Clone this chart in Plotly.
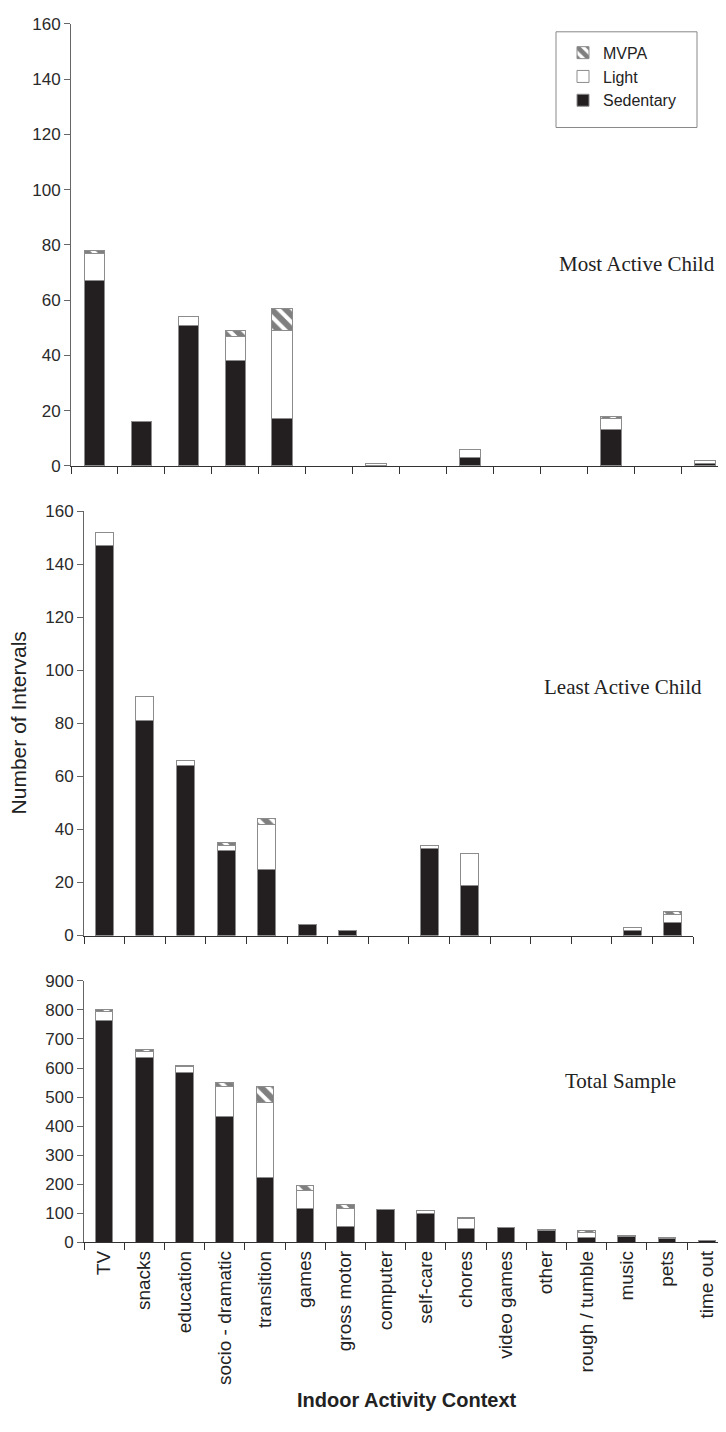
import plotly.graph_objects as go

categories = ["TV", "snacks", "education", "socio - dramatic", "transition", "games",
              "gross motor", "computer", "self-care", "chores", "video games", "other",
              "rough / tumble", "music", "pets", "time out"]

# Most Active Child (14 contexts shown)
most_sed = [67, 16, 51, 38, 17, 0, 0, 0, 3, 0, 0, 13, 0, 1]
most_light = [10, 0, 3, 9, 32, 0, 1, 0, 3, 0, 0, 4, 0, 1]
most_mvpa = [1, 0, 0, 2, 8, 0, 0, 0, 0, 0, 0, 1, 0, 0]

# Least Active Child (15 contexts shown)
least_sed = [147, 81, 64, 32, 25, 4, 2, 0, 33, 19, 0, 0, 0, 2, 5]
least_light = [5, 9, 2, 2, 17, 0, 0, 0, 1, 12, 0, 0, 0, 1, 3]
least_mvpa = [0, 0, 0, 1, 2, 0, 0, 0, 0, 0, 0, 0, 0, 0, 1]

# Total Sample (16 contexts)
total_sed = [765, 635, 583, 432, 222, 118, 53, 113, 100, 48, 52, 40, 15, 20, 13, 8]
total_light = [30, 22, 22, 103, 260, 60, 65, 0, 8, 33, 0, 3, 20, 5, 5, 0]
total_mvpa = [8, 6, 3, 15, 55, 17, 12, 0, 0, 6, 0, 0, 6, 0, 0, 0]

panel_titles = ["Most Active Child", "Least Active Child", "Total Sample"]

DARK = "#231f20"
EDGE = "#8c8c8c"
SANS = "Liberation Sans, Arial, sans-serif"
SERIF = "Liberation Serif, Times New Roman, serif"

# figure is sized so the page (with the default 8px body margin) fits the window
FW, FH, OFF = 710.0, 1416.0, 8.0

def px(x):  # reference-page x -> paper fraction
    return (x - OFF) / FW

def py(y):  # reference-page y -> paper fraction
    return 1 - (y - OFF) / FH

def nz(v):
    return [x if x else None for x in v]

fig = go.Figure()

panels = [
    (most_sed, most_light, most_mvpa, "x", "y"),
    (least_sed, least_light, least_mvpa, "x2", "y2"),
    (total_sed, total_light, total_mvpa, "x3", "y3"),
]

for i, (sed, light, mvpa, xa, ya) in enumerate(panels):
    cats = categories[:len(sed)]
    show = (i == 0)
    fig.add_trace(go.Bar(x=cats, y=nz(sed), name="Sedentary", xaxis=xa, yaxis=ya,
                         marker=dict(color=DARK, line=dict(color=EDGE, width=1)),
                         width=0.44, showlegend=show, legendgroup="sed"))
    fig.add_trace(go.Bar(x=cats, y=nz(light), name="Light", xaxis=xa, yaxis=ya,
                         marker=dict(color="white", line=dict(color=EDGE, width=1)),
                         width=0.44, showlegend=show, legendgroup="light"))
    fig.add_trace(go.Bar(x=cats, y=nz(mvpa), name="MVPA", xaxis=xa, yaxis=ya,
                         marker=dict(color="white", line=dict(color=EDGE, width=1),
                                     pattern=dict(shape="\\", fgcolor="#000000", bgcolor="white",
                                                  size=10, solidity=0.6)),
                         width=0.44, showlegend=show, legendgroup="mvpa"))

xcommon = dict(type="category", showline=True, linecolor="#333", linewidth=1,
               ticks="outside", tickson="boundaries", ticklen=7, tickcolor="#333",
               showgrid=False, zeroline=False, fixedrange=True)
ycommon = dict(showline=True, linecolor="#666", linewidth=1, ticks="outside",
               ticklen=6, tickcolor="#666", showgrid=False, zeroline=False,
               tickfont=dict(family=SANS, size=17, color="#2a2a2a"))

sp_top = 46.95
sp_bot = 40.2

fig.update_layout(
    width=FW, height=FH,
    margin=dict(l=0, r=0, t=0, b=0),
    paper_bgcolor="white", plot_bgcolor="white",
    barmode="stack",
    showlegend=True,
    legend=dict(x=px(563), y=py(27), xanchor="left", yanchor="top",
                traceorder="reversed", borderwidth=0,
                bgcolor="rgba(0,0,0,0)", font=dict(family=SANS, size=16, color="#222"),
                tracegroupgap=12, itemwidth=30),
    xaxis=dict(xcommon, domain=[px(71), 1.0], range=[-0.5, -0.5 + (FW - (71 - OFF)) / sp_top],
               showticklabels=False, anchor="y"),
    yaxis=dict(ycommon, domain=[py(463), py(15)], range=[0, 160], dtick=20, anchor="x"),
    xaxis2=dict(xcommon, domain=[px(84), px(693)], range=[-0.5, 14.5],
                showticklabels=False, anchor="y2"),
    yaxis2=dict(ycommon, domain=[py(939), py(509)], range=[0, 160], dtick=20, anchor="x2"),
    xaxis3=dict(xcommon, domain=[px(84), 1.0], range=[-0.5, -0.5 + (FW - (84 - OFF)) / sp_bot],
                showticklabels=True, tickangle=-90,
                tickfont=dict(family=SANS, size=19, color="#222"), anchor="y3"),
    yaxis3=dict(ycommon, domain=[py(1250), py(985)], range=[0, 900], dtick=100, anchor="x3"),
)

# legend frame
fig.add_shape(type="rect", xref="paper", yref="paper", x0=px(556), x1=px(697),
              y0=py(120), y1=py(23), line=dict(color="#888", width=1),
              fillcolor="rgba(0,0,0,0)", layer="above")

fig.add_annotation(text=panel_titles[0], xref="paper", yref="paper", x=px(717), y=py(258),
                   xanchor="right", yanchor="middle", showarrow=False,
                   font=dict(family=SERIF, size=21, color="#222"))
fig.add_annotation(text=panel_titles[1], xref="paper", yref="paper", x=px(704), y=py(687),
                   xanchor="right", yanchor="middle", showarrow=False,
                   font=dict(family=SERIF, size=21, color="#222"))
fig.add_annotation(text=panel_titles[2], xref="paper", yref="paper", x=px(678), y=py(1086),
                   xanchor="right", yanchor="middle", showarrow=False,
                   font=dict(family=SERIF, size=21, color="#222"))
fig.add_annotation(text="Number of Intervals", xref="paper", yref="paper", x=px(18),
                   y=py(724), textangle=-90, showarrow=False,
                   xanchor="center", yanchor="middle",
                   font=dict(family=SANS, size=21, color="#222"))
fig.add_annotation(text="<b>Indoor Activity Context</b>", xref="paper", yref="paper",
                   x=px(407), y=py(1410), showarrow=False,
                   xanchor="center", yanchor="middle",
                   font=dict(family=SANS, size=20, color="#222"))

fig.write_html("out.html")
